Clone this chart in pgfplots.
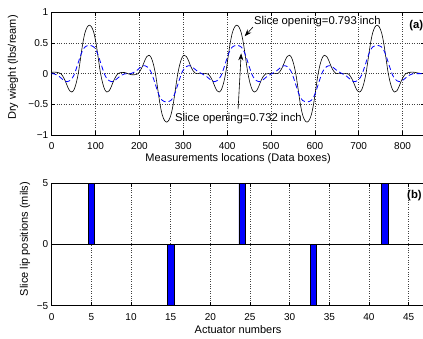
\documentclass[border=0pt]{standalone}
\usepackage{fontspec}
\setmainfont{Liberation Sans}
\usepackage{pgfplots}
\pgfplotsset{compat=1.18}
\usetikzlibrary{arrows.meta}
\begin{document}
\begin{tikzpicture}
\pgfplotsset{
  every axis/.append style={
    scale only axis, width=372.8pt,
    /pgf/number format/assume math mode=true,
    tick align=inside, major tick length=3.5pt,
    axis line style={line width=0.9pt},
    every tick/.style={black, line width=0.5pt},
    grid style={dotted, black!75, line width=0.5pt},
    xticklabel style={anchor=base, yshift=-14.3pt},
    tick label style={font=\fontsize{10}{12}\selectfont},
    label style={font=\fontsize{11}{13}\selectfont},
  }
}
\begin{axis}[
  name=top, at={(0,0)}, anchor=south west,
  height=122.7pt,
  xmin=0, xmax=850, ymin=-1, ymax=1,
  xtick={0,100,...,800},
  ytick={-1,-0.5,0,0.5,1},
  yticklabels={−1,−0.5,0,0.5,1},
  grid=major,
  xlabel={Measurements locations (Data boxes)},
  ylabel={Dry wieght (lbs/ream)},
  xlabel style={at={(axis description cs:0.5,-0.19)}, anchor=center},
  ylabel style={at={(axis description cs:-0.1038,0.55)}, anchor=center},
]
\addplot[black, line width=0.6pt, smooth] coordinates {
(0,0.021)(6,0.025)(11,0.022)(16,0.015)(21,0.0)(26,-0.05)(31,-0.12)(36,-0.21)(41,-0.28)(46,-0.30)(51,-0.26)(56,-0.15)(61,0.02)(66,0.26)(71,0.50)(76,0.67)(81,0.76)(86,0.79)(91,0.76)(96,0.67)(101,0.50)(106,0.26)(111,0.02)(116,-0.15)(121,-0.26)(126,-0.30)(131,-0.28)(136,-0.21)(141,-0.12)(146,-0.05)(151,0.0)(156,0.015)(161,0.02)(166,0.018)(171,0.008)(176,-0.006)(182,-0.018)(187,-0.019)(192,-0.015)(197,0.0)(202,0.05)(207,0.12)(212,0.21)(217,0.28)(222,0.30)(227,0.26)(232,0.15)(237,-0.02)(242,-0.26)(247,-0.50)(252,-0.67)(257,-0.76)(262,-0.79)(267,-0.76)(272,-0.67)(277,-0.50)(282,-0.26)(287,-0.02)(292,0.15)(297,0.26)(302,0.30)(307,0.28)(312,0.21)(317,0.12)(322,0.05)(327,0.008)(332,0.0)(342,0.0)(352,0.0)(357,-0.008)(362,-0.053)(367,-0.12)(372,-0.21)(377,-0.28)(382,-0.30)(387,-0.26)(392,-0.15)(397,0.02)(402,0.26)(407,0.50)(412,0.67)(417,0.76)(422,0.79)(427,0.76)(432,0.67)(437,0.50)(442,0.26)(447,0.02)(452,-0.15)(457,-0.26)(462,-0.30)(467,-0.28)(472,-0.21)(477,-0.12)(482,-0.05)(487,-0.008)(492,0.0)(502,0.0)(512,0.0)(517,0.008)(522,0.053)(527,0.12)(532,0.21)(537,0.28)(542,0.30)(547,0.26)(552,0.15)(557,-0.02)(562,-0.26)(567,-0.50)(572,-0.67)(577,-0.76)(582,-0.79)(587,-0.76)(592,-0.67)(597,-0.50)(602,-0.26)(607,-0.02)(612,0.15)(617,0.26)(622,0.30)(627,0.28)(632,0.21)(637,0.12)(642,0.05)(647,0.008)(652,0.0)(662,0.0)(672,0.0)(677,-0.008)(682,-0.053)(687,-0.12)(692,-0.21)(697,-0.28)(702,-0.30)(707,-0.26)(712,-0.15)(717,0.02)(722,0.26)(727,0.50)(732,0.67)(737,0.76)(742,0.79)(747,0.76)(752,0.67)(757,0.50)(762,0.26)(767,0.02)(772,-0.15)(777,-0.26)(782,-0.30)(787,-0.28)(792,-0.21)(797,-0.12)(802,-0.05)(807,0.0)(812,0.015)(817,0.022)(822,0.025)(827,0.022)(832,0.015)(837,0.008)(842,0.003)(850,0.0)
};
\addplot[blue, line width=0.8pt, dash pattern=on 5pt off 3pt, smooth] coordinates {
(0,0)(6,-0.005)(11,-0.02)(16,-0.04)(21,-0.07)(26,-0.10)(31,-0.125)(36,-0.13)(41,-0.115)(46,-0.08)(51,-0.02)(56,0.08)(61,0.19)(66,0.30)(71,0.385)(76,0.435)(81,0.455)(86,0.46)(91,0.455)(96,0.435)(101,0.385)(106,0.30)(111,0.19)(116,0.08)(121,-0.02)(126,-0.08)(131,-0.115)(136,-0.13)(141,-0.125)(146,-0.10)(151,-0.07)(156,-0.04)(161,-0.02)(166,-0.005)(171,0)(177,0)(182,0.005)(187,0.02)(192,0.04)(197,0.07)(202,0.10)(207,0.125)(212,0.13)(217,0.115)(222,0.08)(227,0.02)(232,-0.08)(237,-0.19)(242,-0.30)(247,-0.385)(252,-0.435)(257,-0.455)(262,-0.46)(267,-0.455)(272,-0.435)(277,-0.385)(282,-0.30)(287,-0.19)(292,-0.08)(297,0.02)(302,0.08)(307,0.115)(312,0.13)(317,0.125)(322,0.10)(327,0.07)(332,0.04)(337,0.02)(342,0)(347,-0.02)(352,-0.04)(357,-0.07)(362,-0.10)(367,-0.125)(372,-0.13)(377,-0.115)(382,-0.08)(387,-0.02)(392,0.08)(397,0.19)(402,0.30)(407,0.385)(412,0.435)(417,0.455)(422,0.46)(427,0.455)(432,0.435)(437,0.385)(442,0.30)(447,0.19)(452,0.08)(457,-0.02)(462,-0.08)(467,-0.115)(472,-0.13)(477,-0.125)(482,-0.10)(487,-0.07)(492,-0.04)(497,-0.02)(502,0)(507,0.02)(512,0.04)(517,0.07)(522,0.10)(527,0.125)(532,0.13)(537,0.115)(542,0.08)(547,0.02)(552,-0.08)(557,-0.19)(562,-0.30)(567,-0.385)(572,-0.435)(577,-0.455)(582,-0.46)(587,-0.455)(592,-0.435)(597,-0.385)(602,-0.30)(607,-0.19)(612,-0.08)(617,0.02)(622,0.08)(627,0.115)(632,0.13)(637,0.125)(642,0.10)(647,0.07)(652,0.04)(657,0.02)(662,0)(667,-0.02)(672,-0.04)(677,-0.07)(682,-0.10)(687,-0.125)(692,-0.13)(697,-0.115)(702,-0.08)(707,-0.02)(712,0.08)(717,0.19)(722,0.30)(727,0.385)(732,0.435)(737,0.455)(742,0.46)(747,0.455)(752,0.435)(757,0.385)(762,0.30)(767,0.19)(772,0.08)(777,-0.02)(782,-0.08)(787,-0.115)(792,-0.13)(797,-0.125)(802,-0.10)(807,-0.07)(812,-0.04)(817,-0.02)(822,-0.005)(827,0)(850,0)
};
\draw[-{Stealth[length=7pt,width=5pt]}, line width=0.6pt] (axis cs:459,0.76) -- (axis cs:440,0.61);
\draw[-{Stealth[length=7pt,width=5pt]}, line width=0.6pt] (axis cs:425,-0.58) -- (axis cs:432,0.33);
\node[anchor=base west, inner sep=0pt, font=\fontsize{11.3}{13}\selectfont] at (axis cs:461,0.80) {Slice opening=0.793 inch};
\node[anchor=base west, inner sep=0pt, font=\fontsize{11.3}{13}\selectfont] at (axis cs:281,-0.78) {Slice opening=0.732 inch};
\node[anchor=base west, inner sep=0pt, font=\bfseries\fontsize{11.3}{13}\selectfont] at (axis cs:815,0.73) {(a)};
\end{axis}
\begin{axis}[
  name=bot, at={(0,-170.7pt)}, anchor=south west,
  height=122.4pt,
  xmin=0, xmax=47, ymin=-5, ymax=5,
  xtick={0,5,...,45},
  ytick={-5,0,5},
  yticklabels={−5,0,5},
  xmajorgrids,
  xlabel={Actuator numbers},
  ylabel={Slice lip positions (mils)},
  xlabel style={at={(axis description cs:0.5,-0.198)}, anchor=center},
  ylabel style={at={(axis description cs:-0.0716,0.545)}, anchor=center},
]
\addplot[black, line width=0.8pt] coordinates {(0,0) (47,0)};
\addplot[ybar, bar width=0.8, bar shift=0pt, fill=blue, draw=black, line width=0.4pt] coordinates {(5,5) (15,-5) (24,5) (33,-5) (42,5)};
\node[anchor=base west, inner sep=0pt, font=\bfseries\fontsize{11.3}{13}\selectfont] at (axis cs:44.8,3.76) {(b)};
\end{axis}
\pgfresetboundingbox
\useasboundingbox (-51.7pt,-204pt) rectangle (371.3pt,135pt);
\end{tikzpicture}
\end{document}
